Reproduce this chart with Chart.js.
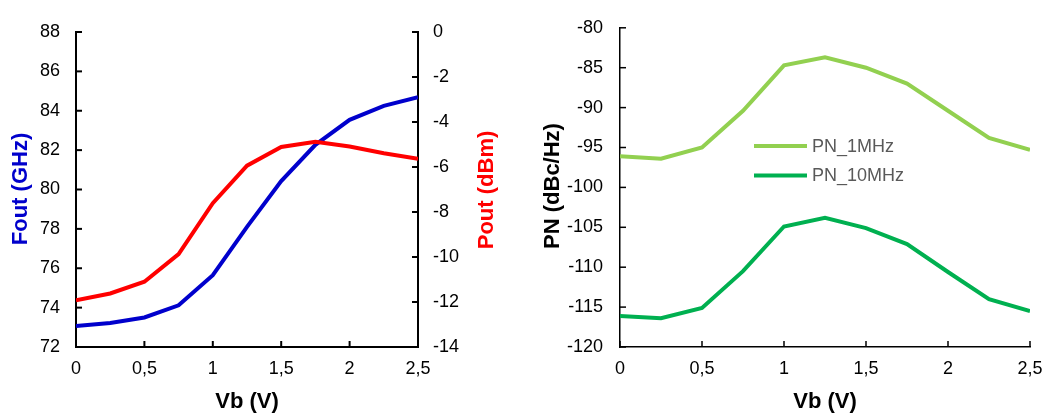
<!DOCTYPE html>
<html>
<head>
<meta charset="utf-8">
<script src="https://cdn.jsdelivr.net/npm/chart.js@4/dist/chart.umd.min.js"></script>
<style>
    body { margin: 0; background: #fff; overflow: hidden; }
    #left { position: absolute; left: 0; top: 0; }
    #right { position: absolute; left: 530px; top: 0; }
</style>
</head>
<body>
<canvas id="left" width="520" height="414"></canvas>
<canvas id="right" width="517" height="414"></canvas>
<script>
// Vb sweep (V)
var vb = [0, 0.25, 0.5, 0.75, 1, 1.25, 1.5, 1.75, 2, 2.25, 2.5];
// left chart
var fout = [73.07, 73.22, 73.5, 74.12, 75.65, 78.1, 80.43, 82.27, 83.54, 84.25, 84.69];
var pout = [-11.92, -11.62, -11.1, -9.87, -7.61, -5.94, -5.11, -4.88, -5.09, -5.39, -5.63];
// right chart
var pn1M = [-96.1, -96.4, -95.0, -90.4, -84.7, -83.7, -85.0, -87.0, -90.4, -93.8, -95.3];
var pn10M = [-116.1, -116.4, -115.1, -110.5, -104.9, -103.8, -105.1, -107.1, -110.6, -114.0, -115.5];

var FONT = '"Liberation Sans", Arial, sans-serif';
var BLUE = '#0000cc', RED = '#ff0000', LGREEN = '#92d050', GREEN = '#00b050';

function pts(ys) {
    return vb.map(function(x, i) { return { x: x, y: ys[i] }; });
}
function comma(v) { return String(v).replace('.', ','); }

// ticks point into the plot area
var insideTicks = {
    id: 'insideTicks',
    afterDraw: function(chart, args, opts) {
        var ctx = chart.ctx, len = 6;
        ctx.save();
        ctx.strokeStyle = '#000';
        ctx.lineWidth = opts.width || 2;
        Object.keys(chart.scales).forEach(function(id) {
            var s = chart.scales[id];
            s.ticks.forEach(function(t, i) {
                var p = s.getPixelForTick(i);
                ctx.beginPath();
                if (s.isHorizontal()) {
                    ctx.moveTo(p, s.top); ctx.lineTo(p, s.top - len);
                } else if (s.position === 'left') {
                    ctx.moveTo(s.right, p); ctx.lineTo(s.right + len, p);
                } else {
                    ctx.moveTo(s.left, p); ctx.lineTo(s.left - len, p);
                }
                ctx.stroke();
            });
        });
        ctx.restore();
    }
};

// axis titles, all reading bottom-to-top like the original
var axisTitles = {
    id: 'axisTitles',
    afterDraw: function(chart, args, opts) {
        var ctx = chart.ctx;
        ctx.save();
        ctx.textAlign = 'center';
        ctx.textBaseline = 'middle';
        (opts.items || []).forEach(function(t) {
            ctx.save();
            ctx.font = 'bold ' + t.size + 'px ' + FONT;
            ctx.fillStyle = t.color;
            ctx.translate(t.x, t.y);
            if (t.rotate) ctx.rotate(-Math.PI / 2);
            ctx.fillText(t.text, 0, 0);
            ctx.restore();
        });
        ctx.restore();
    }
};

// small legend inside the plot
var innerLegend = {
    id: 'innerLegend',
    afterDraw: function(chart, args, opts) {
        if (!opts.show) return;
        var ctx = chart.ctx;
        ctx.save();
        ctx.font = '18px ' + FONT;
        ctx.textBaseline = 'middle';
        chart.data.datasets.forEach(function(ds, i) {
            var y = opts.y + i * opts.gap;
            ctx.strokeStyle = ds.borderColor;
            ctx.lineWidth = 4;
            ctx.beginPath();
            ctx.moveTo(opts.x, y);
            ctx.lineTo(opts.x + 53, y);
            ctx.stroke();
            ctx.fillStyle = '#595959';
            ctx.fillText(ds.label, opts.x + 58, y + 1);
        });
        ctx.restore();
    }
};

function yAxis(pos, min, max, step, width, pad, bw) {
    return {
        type: 'linear',
        position: pos,
        min: min,
        max: max,
        afterFit: function(s) { s.width = width; },
        grid: { display: true, drawOnChartArea: false, drawTicks: false },
        border: { display: true, color: '#000', width: bw },
        ticks: { stepSize: step, padding: pad, color: '#000', font: { family: FONT, size: 18 } }
    };
}

function xAxis(bw) {
    return {
        type: 'linear',
        position: 'bottom',
        min: 0,
        max: 2.5,
        afterFit: function(s) { s.height = 67; s.paddingLeft = 0; s.paddingRight = 0; },
        grid: { display: true, drawOnChartArea: false, drawTicks: false },
        border: { display: true, color: '#000', width: bw },
        ticks: { stepSize: 0.5, padding: 11, color: '#000', font: { family: FONT, size: 18 }, callback: comma }
    };
}

var common = {
    responsive: false,
    animation: false,
    events: [],
    plugins: { legend: { display: false }, tooltip: { enabled: false } },
    elements: { point: { radius: 0 }, line: { tension: 0, borderWidth: 4 } }
};

new Chart(document.getElementById('left'), {
    type: 'line',
    data: {
        datasets: [
            { label: 'Fout', data: pts(fout), borderColor: BLUE, yAxisID: 'y', order: 1 },
            { label: 'Pout', data: pts(pout), borderColor: RED, yAxisID: 'y2', order: 0 }
        ]
    },
    options: Object.assign({}, common, {
        layout: { padding: { top: 32, right: 0, bottom: 0, left: 0 } },
        scales: {
            x: xAxis(2),
            y: yAxis('left', 72, 88, 2, 76, 16, 2),
            y2: yAxis('right', -14, 0, 2, 102, 15, 2)
        },
        plugins: Object.assign({}, common.plugins, {
            insideTicks: { width: 2 },
            axisTitles: { items: [
                { text: 'Fout (GHz)', x: 21, y: 189, size: 22, color: BLUE, rotate: true },
                { text: 'Pout (dBm)', x: 487, y: 190, size: 22, color: RED, rotate: true },
                { text: 'Vb (V)', x: 247, y: 402, size: 22, color: '#000' }
            ] },
            innerLegend: { show: false }
        })
    }),
    plugins: [insideTicks, axisTitles, innerLegend]
});

new Chart(document.getElementById('right'), {
    type: 'line',
    data: {
        datasets: [
            { label: 'PN_1MHz', data: pts(pn1M), borderColor: LGREEN },
            { label: 'PN_10MHz', data: pts(pn10M), borderColor: GREEN }
        ]
    },
    options: Object.assign({}, common, {
        layout: { padding: { top: 24, right: 17, bottom: 0, left: 0 } },
        scales: {
            x: xAxis(1.5),
            y: yAxis('left', -120, -80, 5, 90, 17, 1.5)
        },
        plugins: Object.assign({}, common.plugins, {
            insideTicks: { width: 1.5 },
            axisTitles: { items: [
                { text: 'PN (dBc/Hz)', x: 23, y: 186, size: 22, color: '#000', rotate: true },
                { text: 'Vb (V)', x: 295, y: 402, size: 22, color: '#000' }
            ] },
            innerLegend: { show: true, x: 224, y: 146, gap: 29.5 }
        })
    }),
    plugins: [insideTicks, axisTitles, innerLegend]
});
</script>
</body>
</html>
